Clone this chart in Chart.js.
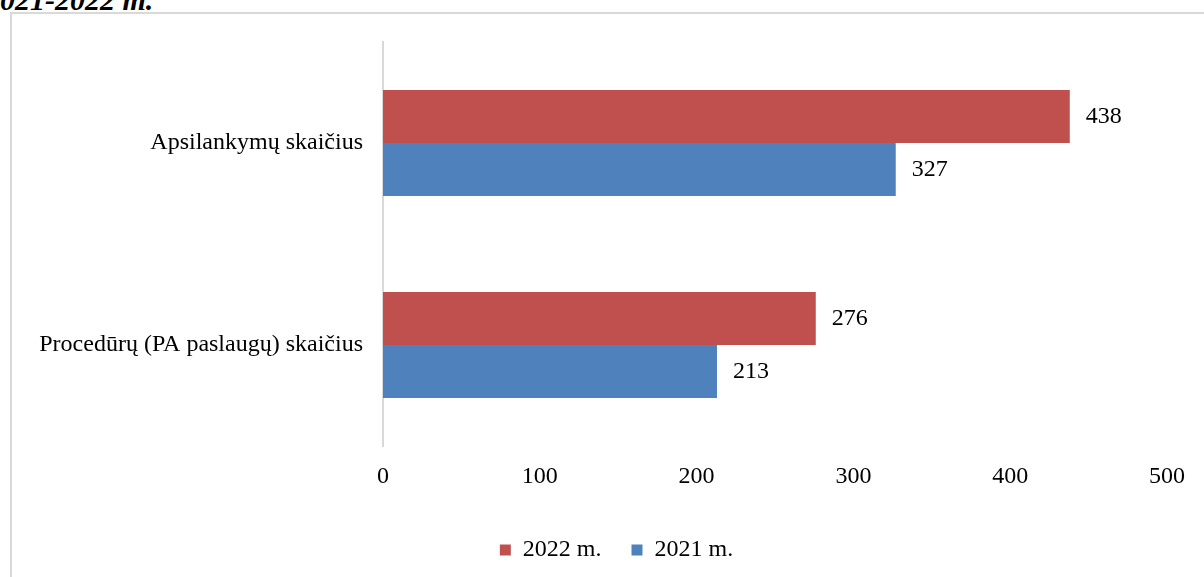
<!DOCTYPE html>
<html><head><meta charset="utf-8">
<script src="https://cdn.jsdelivr.net/npm/chart.js@4.4.1/dist/chart.umd.min.js"></script>
<style>
html,body{margin:0;padding:0;width:1204px;height:577px;overflow:hidden;background:#fff;}
#title{position:absolute;left:-15px;top:-15px;font:italic bold 30px "Liberation Serif",serif;line-height:30px;white-space:nowrap;color:#000;}
#frame{position:absolute;left:10px;top:12px;width:1300px;height:700px;border-left:2px solid #d9d9d9;border-top:2px solid #d9d9d9;}
#wrap{position:absolute;left:0;top:0;width:1204px;height:577px;}
</style></head><body>
<div id="title">2021-2022 m.</div>
<div id="frame"></div>
<div id="wrap"><canvas id="c" width="1204" height="577"></canvas></div>
<script>
const categories = ["Apsilankymų skaičius", "Procedūrų (PA paslaugų) skaičius"];
const seriesNames = ["2022 m.", "2021 m."];
const values2022 = [438, 276];
const values2021 = [327, 213];
const xTicks = [0, 100, 200, 300, 400, 500];

const FONT = {family: '"Liberation Serif", "Times New Roman", serif', size: 24};

const dataLabels = {
  id: 'dataLabels',
  afterInit(chart) {
    const lg = chart.legend;
    if (lg) {
      const orig = lg.fit.bind(lg);
      lg.fit = function () { orig(); this.height = 69; };
    }
  },
  afterLayout(chart) {
    if (chart.legend) { chart.legend.left += 66; }
  },
  afterDatasetsDraw(chart) {
    const ctx = chart.ctx;
    ctx.save();
    ctx.font = FONT.size + 'px ' + FONT.family;
    ctx.fillStyle = '#000';
    ctx.textAlign = 'left';
    ctx.textBaseline = 'middle';
    chart.data.datasets.forEach((ds, i) => {
      chart.getDatasetMeta(i).data.forEach((bar, j) => {
        ctx.fillText(String(ds.data[j]), bar.x + 16, bar.y);
      });
    });
    ctx.restore();
  }
};

new Chart(document.getElementById('c'), {
  type: 'bar',
  data: {
    labels: categories,
    datasets: [
      {label: seriesNames[0], data: values2022, backgroundColor: '#C0504D', categoryPercentage: 0.525, barPercentage: 1},
      {label: seriesNames[1], data: values2021, backgroundColor: '#4F81BD', categoryPercentage: 0.525, barPercentage: 1}
    ]
  },
  options: {
    responsive: false,
    animation: false,
    devicePixelRatio: 1,
    indexAxis: 'y',
    layout: {padding: {left: 0, right: 37, top: 42, bottom: 0}},
    scales: {
      y: {
        grid: {display: false, drawTicks: false},
        border: {display: true, color: '#d9d9d9', width: 2},
        ticks: {font: FONT, color: '#000', padding: 20},
        afterFit(s) { s.width = 383; }
      },
      x: {
        min: 0, max: 500,
        afterBuildTicks(s) { s.ticks = xTicks.map(v => ({value: v})); },
        grid: {display: false, drawTicks: false},
        border: {display: false},
        ticks: {font: FONT, color: '#000', padding: 16, maxRotation: 0, autoSkip: false},
        afterFit(s) { s.height = 62; }
      }
    },
    plugins: {
      legend: {
        position: 'bottom',
        labels: {boxWidth: 11, boxHeight: 11, padding: 30, font: FONT, color: '#000'}
      },
      tooltip: {enabled: false}
    }
  },
  plugins: [dataLabels]
});
</script>
</body></html>
